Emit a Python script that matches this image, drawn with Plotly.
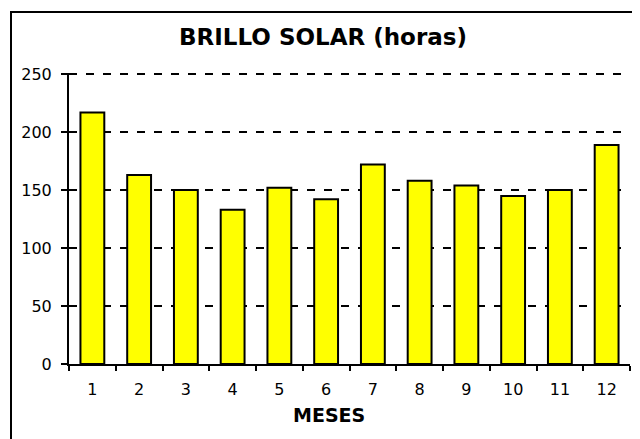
import plotly.graph_objects as go

# --- Data ---
MESES = ['1', '2', '3', '4', '5', '6', '7', '8', '9', '10', '11', '12']
BRILLO_HORAS = [217, 163, 150, 133, 152, 142, 172, 158, 154, 145, 150, 189]
Y_TICKS = [0, 50, 100, 150, 200, 250]

TITLE = 'BRILLO SOLAR (horas)'
X_TITLE = 'MESES'


def generate_plot():
    fig = go.Figure()

    fig.add_trace(
        go.Bar(
            x=MESES,
            y=BRILLO_HORAS,
            marker=dict(color='#FFFF00', line=dict(color='black', width=2)),
            showlegend=False,
        )
    )

    font_family = 'DejaVu Sans, Liberation Sans, Arial, sans-serif'

    # page body adds an 8px margin, so the figure is 8px smaller each way
    fig.update_layout(
        width=632,
        height=431,
        margin=dict(l=61, r=10, t=65, b=75),
        paper_bgcolor='white',
        plot_bgcolor='white',
        bargap=0.49,
        font=dict(family=font_family, color='black', size=16),
        title=dict(
            text='<b>' + TITLE + '</b>',
            x=315 / 632,
            xanchor='center',
            y=1 - 29 / 431,
            yanchor='middle',
            font=dict(size=23, color='black'),
        ),
    )

    fig.update_xaxes(
        type='category',
        tickson='boundaries',
        ticks='outside',
        ticklen=5,
        tickwidth=2,
        tickcolor='black',
        showline=True,
        linecolor='black',
        linewidth=2,
        showgrid=False,
        ticklabelstandoff=10,
        tickfont=dict(size=16),
    )

    # range ends just past 250 so the top dashed line is still drawn
    fig.update_yaxes(
        range=[0, 251],
        tickvals=Y_TICKS,
        ticks='outside',
        ticklen=6,
        tickwidth=2,
        tickcolor='black',
        showline=True,
        linecolor='black',
        linewidth=2,
        showgrid=True,
        gridcolor='black',
        gridwidth=2,
        griddash='8px,9px',
        zeroline=False,
        ticklabelstandoff=6,
        tickfont=dict(size=16),
    )

    # x axis title sits a bit left of the plot centre in the original
    fig.add_annotation(
        text='<b>' + X_TITLE + '</b>',
        xref='paper', yref='paper',
        x=(329 - 69) / 561, y=(364 - 415) / 291,
        xanchor='center', yanchor='middle',
        showarrow=False,
        font=dict(size=19, color='black'),
    )

    # outer chart frame, open off the right and bottom edges
    fig.add_shape(
        type='rect',
        xref='paper', yref='paper',
        x0=(11 - 69) / 561, x1=(660 - 69) / 561,
        y0=(364 - 470) / 291, y1=(364 - 12) / 291,
        line=dict(color='black', width=2),
    )

    fig.write_html('out.html')


if __name__ == '__main__':
    generate_plot()
